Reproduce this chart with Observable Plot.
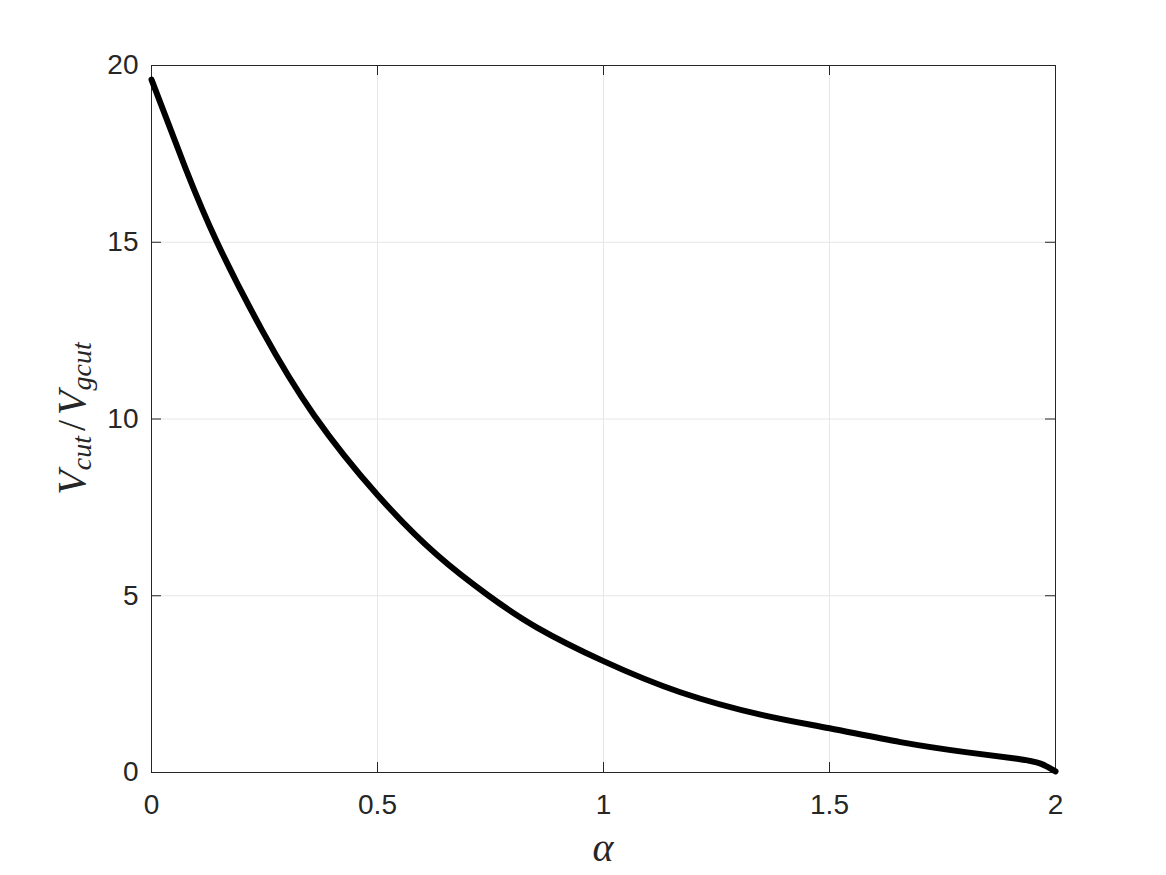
<!DOCTYPE html>
<html><head><meta charset="utf-8">
<script src="https://cdn.jsdelivr.net/npm/d3@7"></script>
<script src="https://cdn.jsdelivr.net/npm/@observablehq/plot@0.6"></script>
<style>body{margin:0;background:#fff} svg{display:block}</style>
</head><body><div id="chart"></div>
<script>
const alpha = [0, 0.075, 0.145, 0.245, 0.36, 0.5, 0.632, 0.746, 0.853, 1.0, 1.17, 1.35, 1.5, 1.657, 1.805, 1.915, 1.967, 2.0];
const ratio = [19.6, 17.1, 15.0, 12.5, 10.1, 7.85, 6.15, 5.0, 4.1, 3.15, 2.27, 1.63, 1.25, 0.86, 0.57, 0.39, 0.25, 0.03];
const xTicks = [0, 0.5, 1, 1.5, 2];
const yTicks = [0, 5, 10, 15, 20];
const xLabel = "α";
const yLabelParts = [["V", false], ["cut", true], ["/", false], ["V", false], ["gcut", true]];

const data = alpha.map((a, i) => ({alpha: a, v: ratio[i]}));
const W = 1166, H = 875, mL = 151, mR = 111, mT = 65, mB = 103;
const innerH = H - mT - mB, innerW = W - mL - mR;
const axisColor = "#262626";

const chart = Plot.plot({
  width: W, height: H,
  marginLeft: mL, marginRight: mR, marginTop: mT, marginBottom: mB,
  style: {fontFamily: "'Liberation Sans', Arial, Helvetica, sans-serif", fontSize: "28px", color: axisColor, background: "#fff"},
  x: {domain: [0, 2]},
  y: {domain: [0, 20]},
  marks: [
    Plot.gridX(xTicks, {stroke: "#e6e6e6", strokeOpacity: 1}),
    Plot.gridY(yTicks, {stroke: "#e6e6e6", strokeOpacity: 1}),
    Plot.axisX(xTicks, {tickSize: 0, tickPadding: 22, label: null, tickFormat: d => String(d), fontSize: 28}),
    Plot.axisY(yTicks, {tickSize: 0, tickPadding: 13, label: null, tickFormat: d => String(d), fontSize: 28}),
    Plot.tickX(xTicks, {x: d => d, insetTop: innerH - 10, stroke: axisColor}),
    Plot.tickX(xTicks, {x: d => d, insetBottom: innerH - 10, stroke: axisColor}),
    Plot.tickY(yTicks, {y: d => d, insetRight: innerW - 10, stroke: axisColor}),
    Plot.tickY(yTicks, {y: d => d, insetLeft: innerW - 10, stroke: axisColor}),
    Plot.frame({stroke: axisColor, strokeWidth: 1}),
    Plot.line(data, {x: "alpha", y: "v", stroke: "#000", strokeWidth: 6, curve: "natural"})
  ]
});
document.getElementById("chart").appendChild(chart);

const svg = d3.select(chart);
const serif = "'Liberation Serif', 'Times New Roman', serif";
svg.append("text")
  .attr("x", mL + innerW / 2).attr("y", 861)
  .attr("text-anchor", "middle")
  .attr("font-family", serif).attr("font-style", "italic").attr("font-size", 40)
  .attr("fill", axisColor)
  .text(xLabel);

const yl = svg.append("text")
  .attr("transform", `translate(85,${mT + innerH / 2}) rotate(-90)`)
  .attr("text-anchor", "middle")
  .attr("font-family", serif).attr("font-size", 40)
  .attr("fill", axisColor);
let sub = false;
for (const [t, isSub] of yLabelParts) {
  const ts = yl.append("tspan").text(t);
  if (t !== "/") ts.attr("font-style", "italic");
  else ts.attr("dx", 5);
  if (t === "V" && sub === false && yl.selectAll("tspan").size() > 1) ts.attr("dx", 5);
  if (isSub) ts.attr("font-size", 28);
  if (isSub && !sub) ts.attr("dy", 6);
  if (!isSub && sub) ts.attr("dy", -6);
  sub = isSub;
}
</script>
</body></html>
